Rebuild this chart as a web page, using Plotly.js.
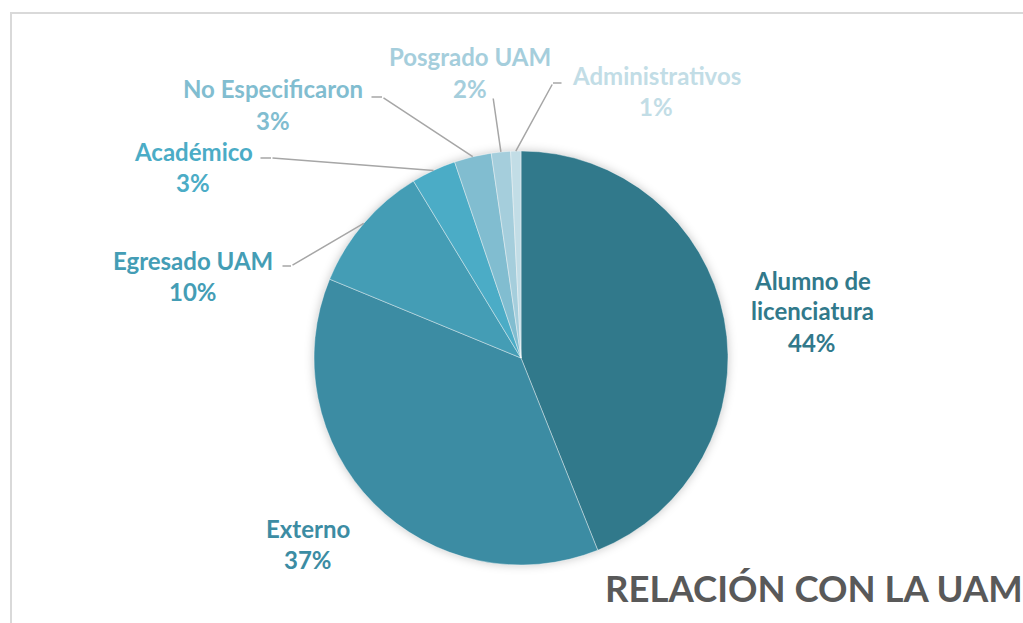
<!DOCTYPE html>
<html>
<head>
<meta charset="utf-8">
<script src="https://cdn.plot.ly/plotly-3.0.1.min.js"></script>
<style>
  body { margin: 0; background: #fff; }
  #chart { width: 1023px; height: 623px; }
  .pielayer { filter: drop-shadow(0 0 5px rgba(0,0,0,0.22)); }
</style>
</head>
<body>
<div id="chart"></div>
<script>
var categories = ["Alumno de<br>licenciatura", "Externo", "Egresado UAM", "Académico", "No Especificaron", "Posgrado UAM", "Administrativos"];
var values = [44, 37.3, 10.1, 3.5, 2.9, 1.5, 0.8];
var pctLabels = ["44%", "37%", "10%", "3%", "3%", "2%", "1%"];
var colors = ["#31798B", "#3C8CA3", "#449DB5", "#4BACC6", "#81BDD0", "#A5CEDC", "#C2DDE6"];

var W = 1023, H = 623;
// pie geometry in px
var cx = 521, cy = 358, R = 207;

// label placement (px): centre x, first line y, and optional leader start/elbow
var labelPos = [
  {x: 812, y: 280},
  {x: 308, y: 528},
  {x: 193, y: 260, start: [281, 266], elbow: [291, 266]},
  {x: 193, y: 152, start: [259, 158], elbow: [271, 158]},
  {x: 273, y: 89, start: [370, 97], elbow: [382, 97]},
  {x: 470, y: 57, start: [493, 97], elbow: [493, 97]},
  {x: 656, y: 76, start: [563, 83], elbow: [553, 83]}
];

var total = values.reduce((a, b) => a + b, 0);
var annotations = [];
var cum = 0;
for (let i = 0; i < values.length; i++) {
  var mid = (cum + values[i] / 2) / total;
  cum += values[i];
  var lines = categories[i].split("<br>").concat([pctLabels[i]]);
  var p = labelPos[i];
  for (let j = 0; j < lines.length; j++) {
    annotations.push({
      xref: "paper", yref: "paper",
      x: p.x / W, y: 1 - (p.y + j * 31) / H,
      xanchor: "center", yanchor: "middle",
      text: lines[j], showarrow: false,
      font: {family: "Lato", size: 24, weight: 700, color: colors[i]}
    });
  }
  if (p.start) {
    var th = 2 * Math.PI * mid;
    var tx = cx + R * Math.sin(th), ty = cy - R * Math.cos(th);
    annotations.push({
      xref: "paper", yref: "paper", x: tx / W, y: 1 - ty / H,
      ax: p.elbow[0] - tx, ay: p.elbow[1] - ty,
      text: "", showarrow: true, arrowhead: 0, arrowwidth: 1.5, arrowcolor: "#A6A6A6", standoff: 0
    });
    if (p.start[0] != p.elbow[0]) {
      annotations.push({
        xref: "paper", yref: "paper", x: p.elbow[0] / W, y: 1 - p.elbow[1] / H,
        ax: p.start[0] - p.elbow[0], ay: p.start[1] - p.elbow[1],
        text: "", showarrow: true, arrowhead: 0, arrowwidth: 1.5, arrowcolor: "#A6A6A6", standoff: 0
      });
    }
  }
}

annotations.push({
  xref: "paper", yref: "paper", x: 1025 / W, y: 1 - 588 / H,
  xanchor: "right", yanchor: "middle",
  text: "RELACIÓN CON LA UAM", showarrow: false,
  font: {family: "Lato", size: 36.5, weight: 700, color: "#595959"}
});

var data = [{
  type: "pie",
  labels: categories,
  values: values,
  sort: false,
  direction: "clockwise",
  rotation: 0,
  textinfo: "none",
  hoverinfo: "none",
  marker: {colors: colors, line: {color: "rgba(255,255,255,0.4)", width: 1}},
  domain: {x: [(cx - R) / W, (cx + R) / W], y: [1 - (cy + R) / H, 1 - (cy - R) / H]}
}];

var layout = {
  width: W, height: H,
  margin: {l: 0, r: 0, t: 0, b: 0},
  showlegend: false,
  paper_bgcolor: "#fff",
  annotations: annotations,
  shapes: [{
    type: "rect", xref: "paper", yref: "paper",
    x0: 11 / W, x1: 1.02, y0: -0.02, y1: 1 - 13 / H,
    line: {color: "#D9D9D9", width: 2}
  }]
};

Plotly.newPlot("chart", data, layout, {displayModeBar: false});
</script>
</body>
</html>
